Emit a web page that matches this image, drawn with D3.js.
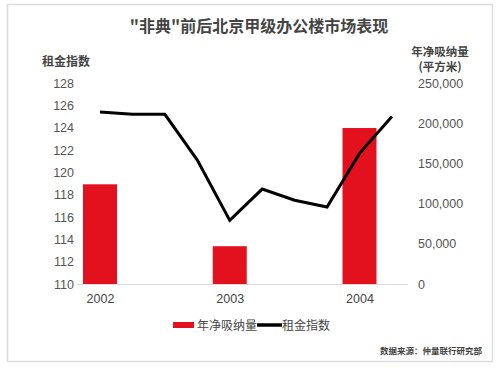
<!DOCTYPE html>
<html>
<head>
<meta charset="utf-8">
<script src="https://cdn.jsdelivr.net/npm/d3@7"></script>
<style>
  body { margin: 0; background: #fff; }
  text { font-family: "Noto Sans CJK SC", "Liberation Sans", Arial, sans-serif; }
</style>
</head>
<body>
<svg id="chart" width="500" height="370"></svg>
<script>
// years for the bars, quarters for the rent line
var years = [2002, 2003, 2004];
var absorption = [124000, 47000, 194000];   // 年净吸纳量 (平方米)
var quarters = [2002, 2002.25, 2002.5, 2002.75, 2003, 2003.25, 2003.5, 2003.75, 2004, 2004.25];
var rentIndex = [125.4, 125.2, 125.2, 121.1, 115.7, 118.5, 117.5, 116.9, 121.7, 125.0];
var leftTicks = [110, 112, 114, 116, 118, 120, 122, 124, 126, 128];
var rightTicks = [0, 50000, 100000, 150000, 200000, 250000];

var svg = d3.select("#chart");

// frame
svg.append("rect")
  .attr("x", 7.5).attr("y", 4.5)
  .attr("width", 485).attr("height", 357)
  .attr("fill", "#fff")
  .attr("stroke", "#dcdcdc")
  .attr("stroke-width", 1.5);

var plotTop = 83, plotBottom = 284;

// x: years mapped linearly so quarters fall between them
var x = d3.scaleLinear().domain([2002, 2004]).range([100, 359.5]);
var yL = d3.scaleLinear().domain([110, 128]).range([plotBottom, plotTop]);
var yR = d3.scaleLinear().domain([0, 250000]).range([plotBottom, plotTop]);

// left axis
var leftAxis = d3.axisLeft(yL).tickValues(leftTicks).tickSize(0).tickPadding(0);
var gl = svg.append("g").attr("transform", "translate(74,0)").call(leftAxis);
gl.select(".domain").remove();
gl.selectAll("text").attr("font-size", 12.5).attr("fill", "#555")
  .style("font-family", "'Liberation Sans', Arial, sans-serif");

// right axis
var rightAxis = d3.axisRight(yR).tickValues(rightTicks).tickSize(0).tickPadding(0)
  .tickFormat(d3.format(","));
var gr = svg.append("g").attr("transform", "translate(418,0)").call(rightAxis);
gr.select(".domain").remove();
gr.selectAll("text").attr("font-size", 12.5).attr("fill", "#555")
  .style("font-family", "'Liberation Sans', Arial, sans-serif");

// bars
var barW = 34;
svg.selectAll(".bar")
  .data(years)
  .enter().append("rect")
  .attr("class", "bar")
  .attr("x", function(d) { return x(d) - barW / 2; })
  .attr("y", function(d, i) { return yR(absorption[i]); })
  .attr("width", barW)
  .attr("height", function(d, i) { return plotBottom - yR(absorption[i]); })
  .attr("fill", "#e3101e");

// baseline
svg.append("line")
  .attr("x1", 77).attr("x2", 408)
  .attr("y1", plotBottom + 0.5).attr("y2", plotBottom + 0.5)
  .attr("stroke", "#d9d9d9").attr("stroke-width", 1);

// x axis labels
var xAxis = d3.axisBottom(x).tickValues(years).tickSize(0).tickPadding(10)
  .tickFormat(d3.format("d"));
var gx = svg.append("g").attr("transform", "translate(0," + plotBottom + ")").call(xAxis);
gx.select(".domain").remove();
gx.selectAll("text").attr("font-size", 12.5).attr("fill", "#444")
  .style("font-family", "'Liberation Sans', Arial, sans-serif");

// rent line
var line = d3.line()
  .x(function(d) { return x(d); })
  .y(function(d, i) { return yL(rentIndex[i]); });
svg.append("path")
  .datum(quarters)
  .attr("d", line)
  .attr("fill", "none")
  .attr("stroke", "#000")
  .attr("stroke-width", 3)
  .attr("stroke-linejoin", "miter");

// title
svg.append("text")
  .attr("x", 259).attr("y", 32)
  .attr("text-anchor", "middle")
  .attr("font-size", 16).attr("font-weight", "bold").attr("fill", "#444")
  .text("\"非典\"前后北京甲级办公楼市场表现");

// axis titles
svg.append("text")
  .attr("x", 66).attr("y", 66)
  .attr("text-anchor", "middle")
  .attr("font-size", 12).attr("font-weight", "bold").attr("fill", "#444")
  .text("租金指数");
svg.append("text")
  .attr("x", 440).attr("y", 56)
  .attr("text-anchor", "middle")
  .attr("font-size", 11.5).attr("font-weight", "bold").attr("fill", "#444")
  .text("年净吸纳量");
svg.append("text")
  .attr("x", 440).attr("y", 71)
  .attr("text-anchor", "middle")
  .attr("font-size", 11.5).attr("font-weight", "bold").attr("fill", "#444")
  .text("(平方米)");

// legend
var lg = svg.append("g");
lg.append("rect").attr("x", 173).attr("y", 322).attr("width", 21).attr("height", 6).attr("fill", "#e3101e");
lg.append("text").attr("x", 197).attr("y", 329.5).attr("font-size", 12).attr("fill", "#444").text("年净吸纳量");
lg.append("line").attr("x1", 257).attr("x2", 282).attr("y1", 325).attr("y2", 325)
  .attr("stroke", "#000").attr("stroke-width", 3.5);
lg.append("text").attr("x", 282).attr("y", 329.5).attr("font-size", 12).attr("fill", "#444").text("租金指数");

// source
svg.append("text")
  .attr("x", 482).attr("y", 354)
  .attr("text-anchor", "end")
  .attr("font-size", 8.5).attr("font-weight", "bold").attr("fill", "#444")
  .text("数据来源：仲量联行研究部");
</script>
</body>
</html>
